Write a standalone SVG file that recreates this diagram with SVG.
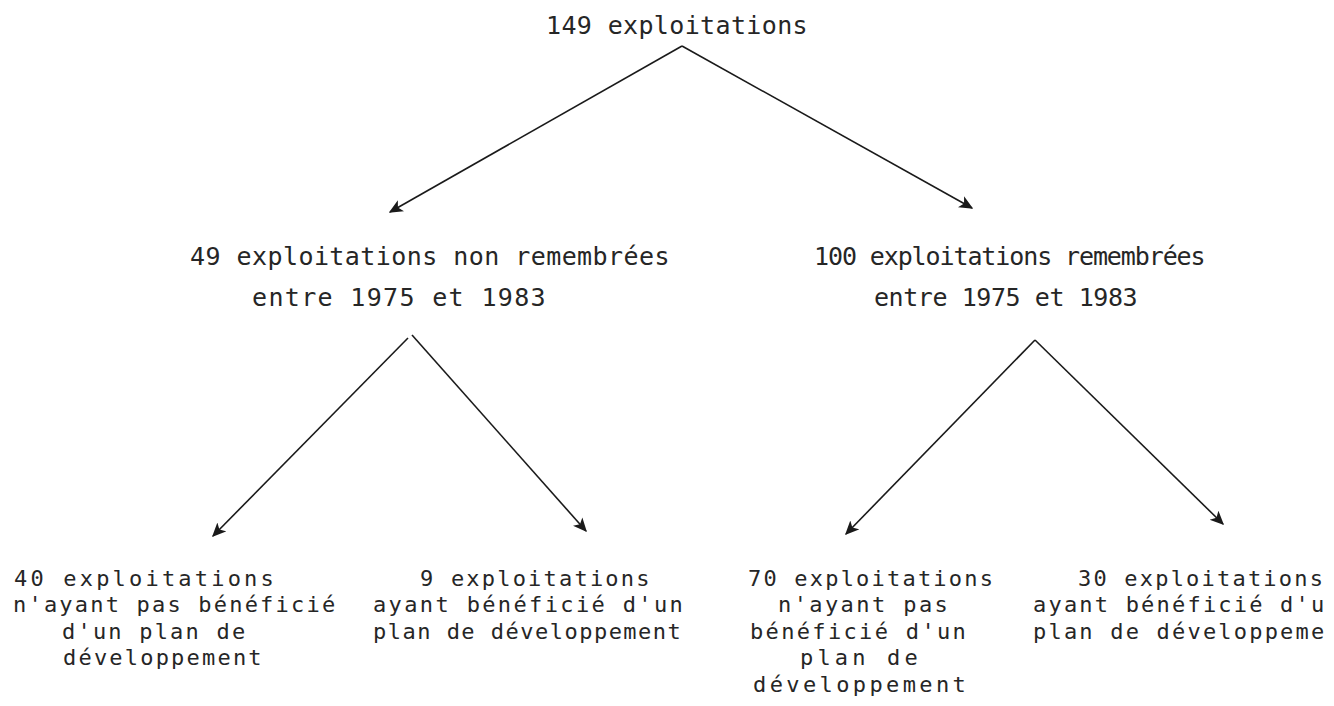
<svg xmlns="http://www.w3.org/2000/svg" width="1334" height="706" viewBox="0 0 1334 706">
<style>
text{font-family:"DejaVu Sans Mono","Liberation Mono",monospace;font-size:25px;letter-spacing:0.4px;fill:#262626}
text.s{font-size:22px;letter-spacing:2.2px}
.c{stroke:#1a1a1a;stroke-width:1.6;fill:none}
</style>
<defs>
<marker id="ah" viewBox="0 0 10 10" refX="9" refY="5" markerWidth="14" markerHeight="14" markerUnits="userSpaceOnUse" orient="auto">
<path d="M0,0.5 L10,5 L0,9.5 L2.5,5 Z" fill="#1a1a1a"/>
</marker>
</defs>
<rect width="1334" height="706" fill="#fff"/>
<g id="connectors">
<line class="c" x1="682" y1="46" x2="390" y2="212" marker-end="url(#ah)"/>
<line class="c" x1="682" y1="46" x2="972" y2="208" marker-end="url(#ah)"/>
<line class="c" x1="408" y1="338" x2="213" y2="536" marker-end="url(#ah)"/>
<line class="c" x1="412" y1="335" x2="586" y2="531" marker-end="url(#ah)"/>
<line class="c" x1="1035" y1="340" x2="846" y2="534" marker-end="url(#ah)"/>
<line class="c" x1="1035" y1="340" x2="1223" y2="524" marker-end="url(#ah)"/>
</g>
<g id="root"><text x="546" y="34" textLength="262">149 exploitations</text></g>
<g id="non-remembrees">
<text x="190" y="265" textLength="480">49 exploitations non remembrées</text>
<text x="252" y="306" textLength="294">entre 1975 et 1983</text>
</g>
<g id="remembrees">
<text x="814" y="265" textLength="392">100 exploitations remembrées</text>
<text x="874" y="306" textLength="264">entre 1975 et 1983</text>
</g>
<g id="nr-sans-plan">
<text class="s" x="14" y="586" textLength="262">40 exploitations</text>
<text class="s" x="13" y="612">n'ayant pas bénéficié</text>
<text class="s" x="62" y="639">d'un plan de</text>
<text class="s" x="63" y="665">développement</text>
</g>
<g id="nr-avec-plan">
<text class="s" x="420" y="586">9 exploitations</text>
<text class="s" x="373" y="612" textLength="312">ayant bénéficié d'un</text>
<text class="s" x="373" y="639" textLength="310">plan de développement</text>
</g>
<g id="r-sans-plan">
<text class="s" x="748" y="586">70 exploitations</text>
<text class="s" x="778" y="612" textLength="172">n'ayant pas</text>
<text class="s" x="750" y="639" textLength="218">bénéficié d'un</text>
<text class="s" x="800" y="665" textLength="120">plan de</text>
<text class="s" x="753" y="692" textLength="215">développement</text>
</g>
<g id="r-avec-plan">
<text class="s" x="1078" y="586">30 exploitations</text>
<text class="s" x="1033" y="612">ayant bénéficié d'u</text>
<text class="s" x="1033" y="639">plan de développeme</text>
</g>
</svg>
